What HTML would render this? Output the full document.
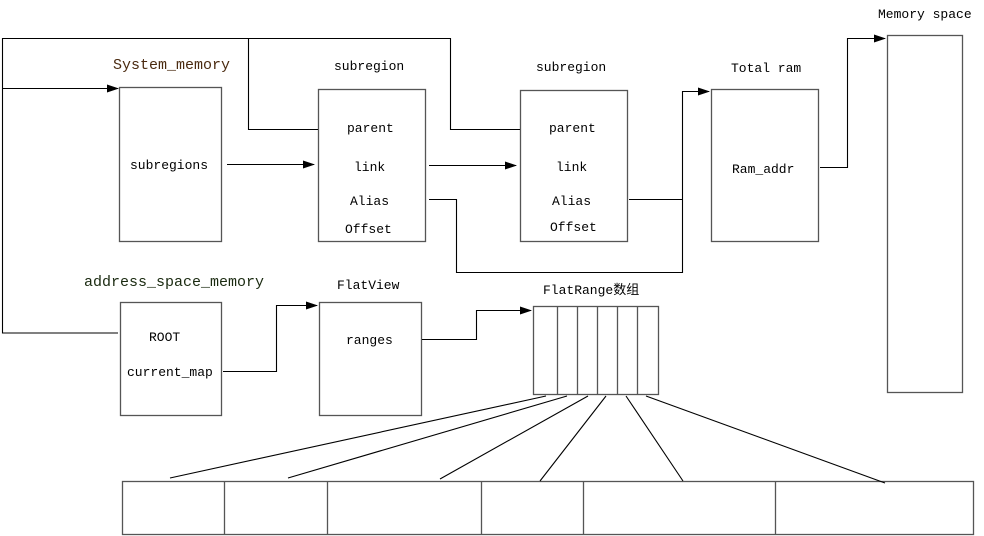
<!DOCTYPE html>
<html><head><style>body{margin:0;background:#fff}svg{display:block}text{font-family:"Liberation Mono","Noto Sans CJK SC",monospace;font-size:13px;fill:#000}</style></head><body>
<svg width="984" height="536" viewBox="0 0 984 536">
<defs><marker id="a" markerWidth="12" markerHeight="8" refX="11" refY="4" orient="auto" markerUnits="userSpaceOnUse"><path d="M0,0L12,4L0,8z" fill="#000"/></marker></defs>
<g fill="none" stroke="#555" stroke-width="1.3">
<rect x="119.5" y="87.5" width="102" height="154"/>
<rect x="318.5" y="89.5" width="107" height="152"/>
<rect x="520.5" y="90.5" width="107" height="151"/>
<rect x="711.5" y="89.5" width="107" height="152"/>
<rect x="887.5" y="35.5" width="75" height="357"/>
<rect x="120.5" y="302.5" width="101" height="113"/>
<rect x="319.5" y="302.5" width="102" height="113"/>
<rect x="533.5" y="306.5" width="125" height="88"/>
<path d="M557.5 306v88M577.5 306v88M597.5 306v88M617.5 306v88M637.5 306v88"/>
<rect x="122.5" y="481.5" width="851" height="53"/>
<path d="M224.5 481v53M327.5 481v53M481.5 481v53M583.5 481v53M775.5 481v53"/>
</g>
<g fill="none" stroke="#000" stroke-width="1.1">
<path d="M118 333H2.5V38.5H450.5V129.5H520"/>
<path d="M248.5 38V129.5H318"/>
<path d="M2 88.5H118" marker-end="url(#a)"/>
<path d="M227 164.5H314" marker-end="url(#a)"/>
<path d="M429 165.5H516" marker-end="url(#a)"/>
<path d="M429 199.5H456.5V272.5H682.5V91.5H709" marker-end="url(#a)"/>
<path d="M629 199.5H682"/>
<path d="M820 167.5H847.5V38.5H885" marker-end="url(#a)"/>
<path d="M223 371.5H276.5V305.5H317" marker-end="url(#a)"/>
<path d="M422 339.5H476.5V310.5H531" marker-end="url(#a)"/>
<path d="M546 396L170 478M567 396L288 478M588 396L440 479M606 396L540 481M626 396L683 481M646 396L885 483"/>
</g>
<text x="113" y="69" style="font-size:15px;fill:#4a2a10">System_memory</text>
<text x="334" y="70">subregion</text>
<text x="536" y="71">subregion</text>
<text x="731" y="72">Total ram</text>
<text x="878" y="18">Memory space</text>
<text x="130" y="169">subregions</text>
<text x="347" y="132">parent</text>
<text x="354" y="171">link</text>
<text x="350" y="205">Alias</text>
<text x="345" y="233">Offset</text>
<text x="549" y="132">parent</text>
<text x="556" y="171">link</text>
<text x="552" y="205">Alias</text>
<text x="550" y="231">Offset</text>
<text x="732" y="173">Ram_addr</text>
<text x="84" y="286" style="font-size:15px;fill:#1a2a10">address_space_memory</text>
<text x="337" y="289">FlatView</text>
<text x="543" y="294">FlatRange数组</text>
<text x="149" y="341">ROOT</text>
<text x="127" y="376">current_map</text>
<text x="346" y="344">ranges</text>
</svg>
</body></html>
